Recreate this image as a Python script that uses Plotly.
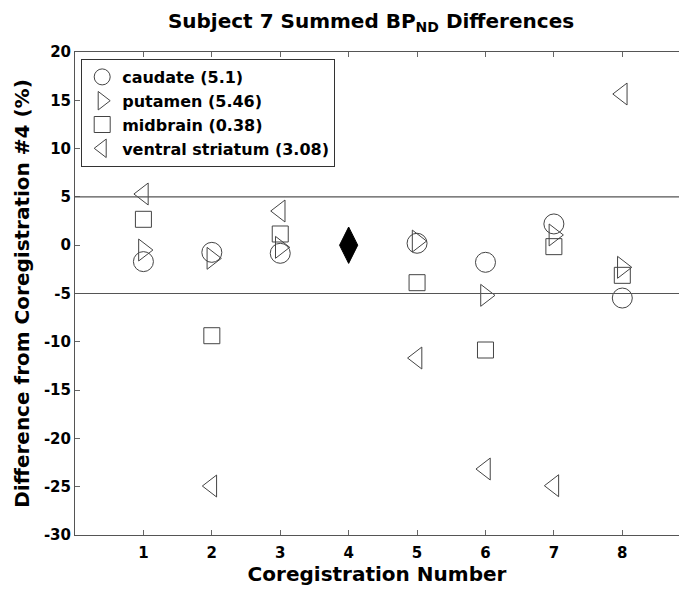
import plotly.graph_objects as go

coreg_other = [1, 2, 3, 5, 6, 7, 8]
caudate = [-1.7, -0.74, -0.84, 0.2, -1.77, 2.2, -5.47]
putamen = [-0.5, -1.36, -0.22, 0.43, -5.19, 1.06, -2.29]
midbrain = [2.68, -9.37, 1.16, -3.88, -10.85, -0.15, -3.12]
ventral = [5.3, -24.93, 3.54, -11.68, -23.17, -24.9, 15.65]
ref_x = [4]
ref_y = [0]
bounds = [5, -5]
x_ticks = [1, 2, 3, 4, 5, 6, 7, 8]
y_ticks = [20, 15, 10, 5, 0, -5, -10, -15, -20, -25, -30]
y_tick_labels = ["20", "15", "10", "5", "0", "-5", "-10", "-15", "-20", "-25", "-30"]

series = [
    ("caudate (5.1)", caudate, "circle-open", 20),
    ("putamen (5.46)", putamen, "triangle-right-open", 19),
    ("midbrain (0.38)", midbrain, "square-open", 16),
    ("ventral striatum (3.08)", ventral, "triangle-left-open", 19),
]

FONT = "DejaVu Sans"
LC = "#444444"

# page body has an 8px margin; figure is sized to fit inside it
W, H = 671, 578
OFF = 8
L = 74.5 - OFF
T = 52 - OFF
B = H - (535 - OFF)
PX_PER_UNIT = 68.47

fig = go.Figure()
for name, vals, sym, sz in series:
    fig.add_trace(go.Scatter(
        x=coreg_other, y=vals, mode="markers", name=name,
        marker=dict(symbol=sym, size=sz, color=LC, line=dict(width=1, color=LC)),
    ))
fig.add_trace(go.Scatter(
    x=ref_x, y=ref_y, mode="markers", showlegend=False,
    marker=dict(symbol="diamond-tall", size=26, color="black", line=dict(width=1, color="black")),
))

for b in bounds:
    fig.add_shape(type="line", xref="paper", x0=0, x1=1, yref="y", y0=b, y1=b,
                  line=dict(color="#555555", width=1.2))

plot_w = W - L
plot_h = H - T - B

fig.update_layout(
    width=W, height=H,
    margin=dict(l=L, r=0, t=T, b=B, pad=0, autoexpand=False),
    paper_bgcolor="white", plot_bgcolor="white",
    font=dict(family=FONT, color="black", weight="bold"),
    title=dict(text="Subject 7 Summed BP<sub>ND</sub> Differences",
               x=(371 - OFF) / W, xanchor="center", y=1 - (21 - OFF) / H, yanchor="middle",
               font=dict(size=20, family=FONT, weight="bold")),
    showlegend=True,
    legend=dict(x=(80.7 - 74.5) / plot_w, y=1 - (59 - 52) / plot_h, xanchor="left", yanchor="top",
                bordercolor="#333333", borderwidth=1, bgcolor="white",
                font=dict(size=16, family=FONT, weight="bold"), itemsizing="trace"),
    xaxis=dict(range=[0, plot_w / PX_PER_UNIT], tickvals=x_ticks,
               ticks="inside", ticklen=5, tickcolor="#666666", showgrid=False, zeroline=False,
               showline=True, linecolor="#555555", linewidth=1, mirror="ticks",
               ticklabelstandoff=4, automargin=False,
               tickfont=dict(size=15, family=FONT, weight="bold"),
               title=dict(text="Coregistration Number", font=dict(size=20, family=FONT, weight="bold"), standoff=14)),
    yaxis=dict(range=[-30, 20], tickvals=y_ticks, ticktext=y_tick_labels,
               ticks="inside", ticklen=5, tickcolor="#666666", showgrid=False, zeroline=False,
               showline=True, linecolor="#555555", linewidth=1, mirror=False, automargin=False,
               tickfont=dict(size=15, family=FONT, weight="bold"),
               title=dict(text="Difference from Coregistration #4 (%)", font=dict(size=20, family=FONT, weight="bold"), standoff=8)),
)

fig.write_html("out.html")
